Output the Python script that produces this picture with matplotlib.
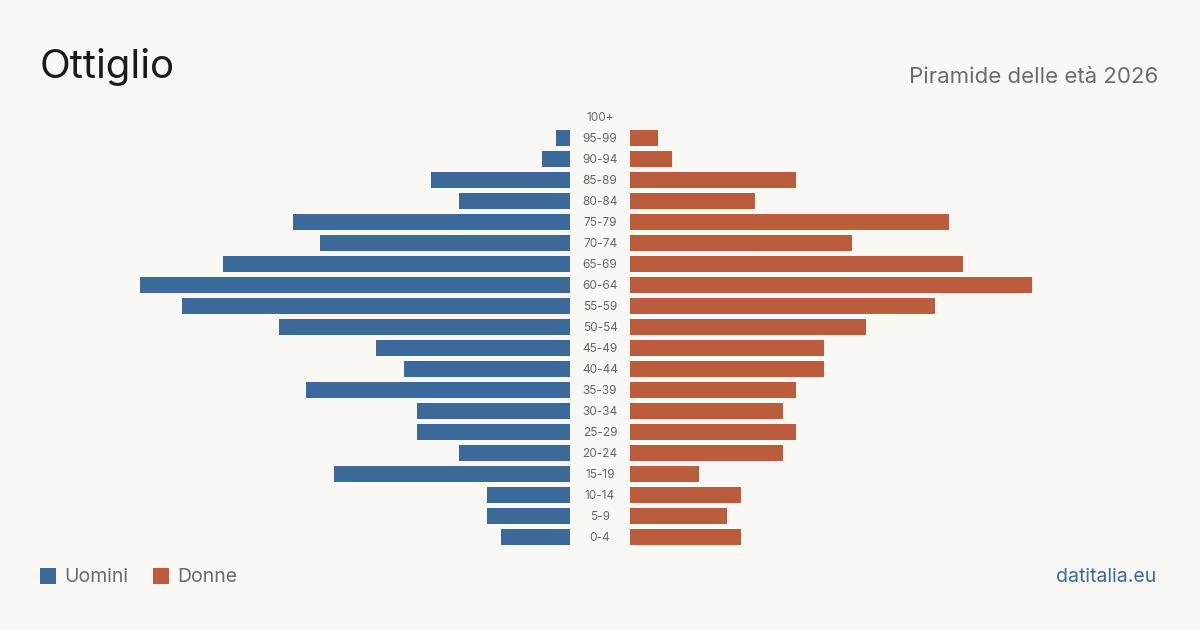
import matplotlib

matplotlib.use("Agg")
import matplotlib.pyplot as plt
from matplotlib.patches import Rectangle

plt.rcParams["font.family"] = ["Inter", "DejaVu Sans"]

AGE_GROUPS = [
    "0-4", "5-9", "10-14", "15-19", "20-24", "25-29", "30-34", "35-39",
    "40-44", "45-49", "50-54", "55-59", "60-64", "65-69", "70-74",
    "75-79", "80-84", "85-89", "90-94", "95-99", "100+",
]
MEN = [5, 6, 6, 17, 8, 11, 11, 19, 12, 14, 21, 28, 31, 25, 18, 20, 8, 10, 2, 1, 0]
WOMEN = [8, 7, 8, 5, 11, 12, 11, 12, 14, 14, 17, 22, 29, 24, 16, 23, 9, 12, 3, 2, 0]

BG = "#f9f8f4"
BLUE = "#3b6a9a"
ORANGE = "#bb5c3c"
W, H = 1200, 630
UNIT = 430 / 31  # pixels per person


def px_to_fig(x0, y_top, width, height):
    return (x0 / W, 1 - (y_top + height) / H, width / W, height / H)


def main():
    fig = plt.figure(figsize=(12, 6.3), dpi=100, facecolor=BG)

    y_top = 117 - 10.5
    y_h = 21 * 21
    men_max = 31
    women_max = 29

    ax_m = fig.add_axes(px_to_fig(570 - men_max * UNIT, y_top, men_max * UNIT, y_h))
    ax_w = fig.add_axes(px_to_fig(630, y_top, women_max * UNIT, y_h))
    ypos = list(range(len(AGE_GROUPS)))

    ax_m.barh(ypos, MEN, height=0.8, color=BLUE)
    ax_m.set_xlim(men_max, 0)
    ax_w.barh(ypos, WOMEN, height=0.8, color=ORANGE)
    ax_w.set_xlim(0, women_max)

    for ax in (ax_m, ax_w):
        ax.set_ylim(-0.5, len(AGE_GROUPS) - 0.5)
        ax.axis("off")
        ax.set_facecolor("none")

    # age labels in the gap between the two halves
    for i, label in enumerate(AGE_GROUPS):
        fig.text(600 / W, 1 - (538 - i * 21) / H, label, ha="center", va="center",
                 fontsize=8.5, color="#666666")

    fig.text(40 / W, 1 - 67 / H, "Ottiglio", ha="left", va="center",
             fontsize=29, color="#1a1a1a")
    fig.text(1158 / W, 1 - 77 / H, "Piramide delle età 2026", ha="right", va="center",
             fontsize=16, color="#6b6b6b")

    # legend
    fig.add_artist(Rectangle((40 / W, 1 - 584 / H), 16 / W, 16 / H,
                             transform=fig.transFigure, facecolor=BLUE, edgecolor="none"))
    fig.text(64 / W, 1 - 577 / H, "Uomini", ha="left", va="center",
             fontsize=14, color="#6b6b6b")
    fig.add_artist(Rectangle((153 / W, 1 - 584 / H), 16 / W, 16 / H,
                             transform=fig.transFigure, facecolor=ORANGE, edgecolor="none"))
    fig.text(177 / W, 1 - 577 / H, "Donne", ha="left", va="center",
             fontsize=14, color="#6b6b6b")

    fig.text(1156 / W, 1 - 577 / H, "datitalia.eu", ha="right", va="center",
             fontsize=14, color=BLUE)

    fig.savefig("out.png", facecolor=BG)


if __name__ == "__main__":
    main()
